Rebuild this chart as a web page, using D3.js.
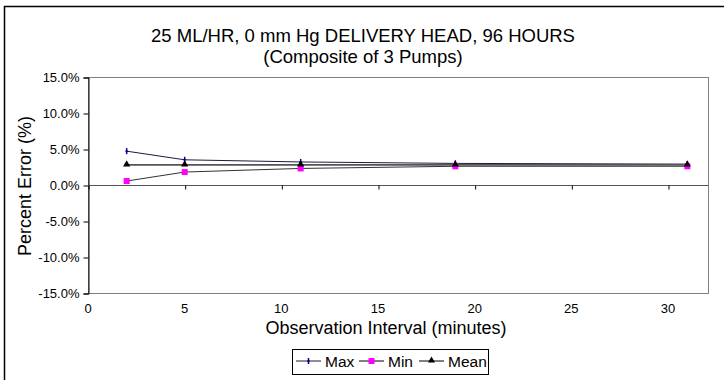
<!DOCTYPE html>
<html>
<head>
<meta charset="utf-8">
<script src="https://cdn.jsdelivr.net/npm/d3@7"></script>
<style>
  body { margin: 0; background: #fff; }
  svg { display: block; font-family: "Liberation Sans", Arial, sans-serif; }
</style>
</head>
<body>
<svg id="chart" width="724" height="380"></svg>
<script>
// observation intervals (minutes) and percent error per series
let intervals = [2, 5, 11, 19, 31];
let maxErr  = [4.7, 3.5, 3.2, 3.0, 2.9];
let minErr  = [0.55, 1.8, 2.3, 2.6, 2.6];
let meanErr = [2.8, 2.8, 2.8, 2.8, 2.8];
let xTicks = [0, 5, 10, 15, 20, 25, 30];
let yTicks = [-15, -10, -5, 0, 5, 10, 15];

let series = [
  {name: "Max",  values: maxErr,  line: "#1c1c40", marker: "plus"},
  {name: "Min",  values: minErr,  line: "#333",    marker: "square"},
  {name: "Mean", values: meanErr, line: "#555",    marker: "triangle"}
];

let svg = d3.select("#chart");
let plot = {left: 88, top: 77, right: 708, bottom: 293};

let x = d3.scaleLinear().domain([0, 32.07]).range([plot.left, plot.right]);
let y = d3.scaleLinear().domain([-15, 15]).range([plot.bottom, plot.top]);

// outer chart border (runs off the right / bottom of the picture)
svg.append("rect")
  .attr("x", 4.5).attr("y", 6.5)
  .attr("width", 730).attr("height", 390)
  .attr("fill", "none").attr("stroke", "#000").attr("stroke-width", 1.5);

// titles
svg.append("text").attr("x", 363).attr("y", 42)
  .attr("text-anchor", "middle").attr("font-size", 18.5)
  .text("25 ML/HR, 0 mm Hg DELIVERY HEAD, 96 HOURS");
svg.append("text").attr("x", 363).attr("y", 63)
  .attr("text-anchor", "middle").attr("font-size", 18.5)
  .text("(Composite of 3 Pumps)");

// plot area frame
svg.append("rect")
  .attr("x", plot.left + 0.5).attr("y", plot.top + 0.5)
  .attr("width", plot.right - plot.left).attr("height", plot.bottom - plot.top)
  .attr("fill", "none").attr("stroke", "#808080");

// y axis on the left
let yAxis = d3.axisLeft(y).tickValues(yTicks).tickSize(5).tickPadding(4)
  .tickFormat(d => d.toFixed(1) + "%");
let yg = svg.append("g").attr("transform", "translate(" + (plot.left + 0.5) + ",0.5)").call(yAxis);
yg.select(".domain").attr("stroke", "#000");
yg.selectAll("text").attr("font-size", 13).attr("fill", "#000")
  .attr("font-family", "Liberation Sans, Arial, sans-serif");

// x axis crossing at zero, labels placed below the plot
let xAxis = d3.axisBottom(x).tickValues(xTicks).tickSize(4).tickFormat("");
let xg = svg.append("g").attr("transform", "translate(0.5," + (y(0) + 0.5) + ")").call(xAxis);
xg.select(".domain").attr("stroke", "#555").attr("d", "M" + plot.left + ",0H" + plot.right);

svg.append("g").selectAll("text")
  .data(xTicks).enter().append("text")
  .attr("x", d => x(d)).attr("y", 313)
  .attr("text-anchor", "middle").attr("font-size", 13)
  .text(d => d);

// axis titles
svg.append("text").attr("x", 386).attr("y", 334)
  .attr("text-anchor", "middle").attr("font-size", 18)
  .text("Observation Interval (minutes)");
svg.append("text")
  .attr("transform", "translate(31," + 186 + ") rotate(-90)")
  .attr("text-anchor", "middle").attr("font-size", 18)
  .text("Percent Error (%)");

function drawMarker(g, type, cx, cy) {
  if (type === "plus") {
    g.append("line").attr("x1", cx).attr("x2", cx).attr("y1", cy - 3).attr("y2", cy + 3)
      .attr("stroke", "#00008b").attr("stroke-width", 1.5);
    g.append("line").attr("x1", cx - 1.5).attr("x2", cx + 1.5).attr("y1", cy).attr("y2", cy)
      .attr("stroke", "#00008b").attr("stroke-width", 1);
  } else if (type === "square") {
    g.append("rect").attr("x", cx - 3).attr("y", cy - 3).attr("width", 6).attr("height", 6)
      .attr("fill", "#ff00ff");
  } else {
    g.append("path").attr("d", d3.symbol().type(d3.symbolTriangle).size(22)())
      .attr("transform", "translate(" + cx + "," + (cy - 0.5) + ")")
      .attr("fill", "#000");
  }
}

let line = d3.line().x(d => x(d[0])).y(d => y(d[1]));

series.forEach(s => {
  let pts = intervals.map((v, i) => [v, s.values[i]]);
  svg.append("path").datum(pts)
    .attr("d", line).attr("fill", "none")
    .attr("stroke", s.line).attr("stroke-width", s.name === "Mean" ? 1.6 : 1);
});
series.forEach(s => {
  let g = svg.append("g");
  intervals.forEach((v, i) => drawMarker(g, s.marker, x(v), y(s.values[i])));
});

// legend
let legend = svg.append("g");
legend.append("rect").attr("x", 292.5).attr("y", 349.5).attr("width", 196).attr("height", 25)
  .attr("fill", "#fff").attr("stroke", "#000");
let legendX = [296, 359, 419];
series.forEach((s, i) => {
  let lx = legendX[i], ly = 361;
  legend.append("line").attr("x1", lx).attr("x2", lx + 25).attr("y1", ly).attr("y2", ly)
    .attr("stroke", s.name === "Max" ? "#1c1c40" : "#000");
  drawMarker(legend, s.marker, lx + 12.5, ly);
  legend.append("text").attr("x", lx + 29).attr("y", ly + 6)
    .attr("font-size", 15.5).text(s.name);
});
</script>
</body>
</html>
